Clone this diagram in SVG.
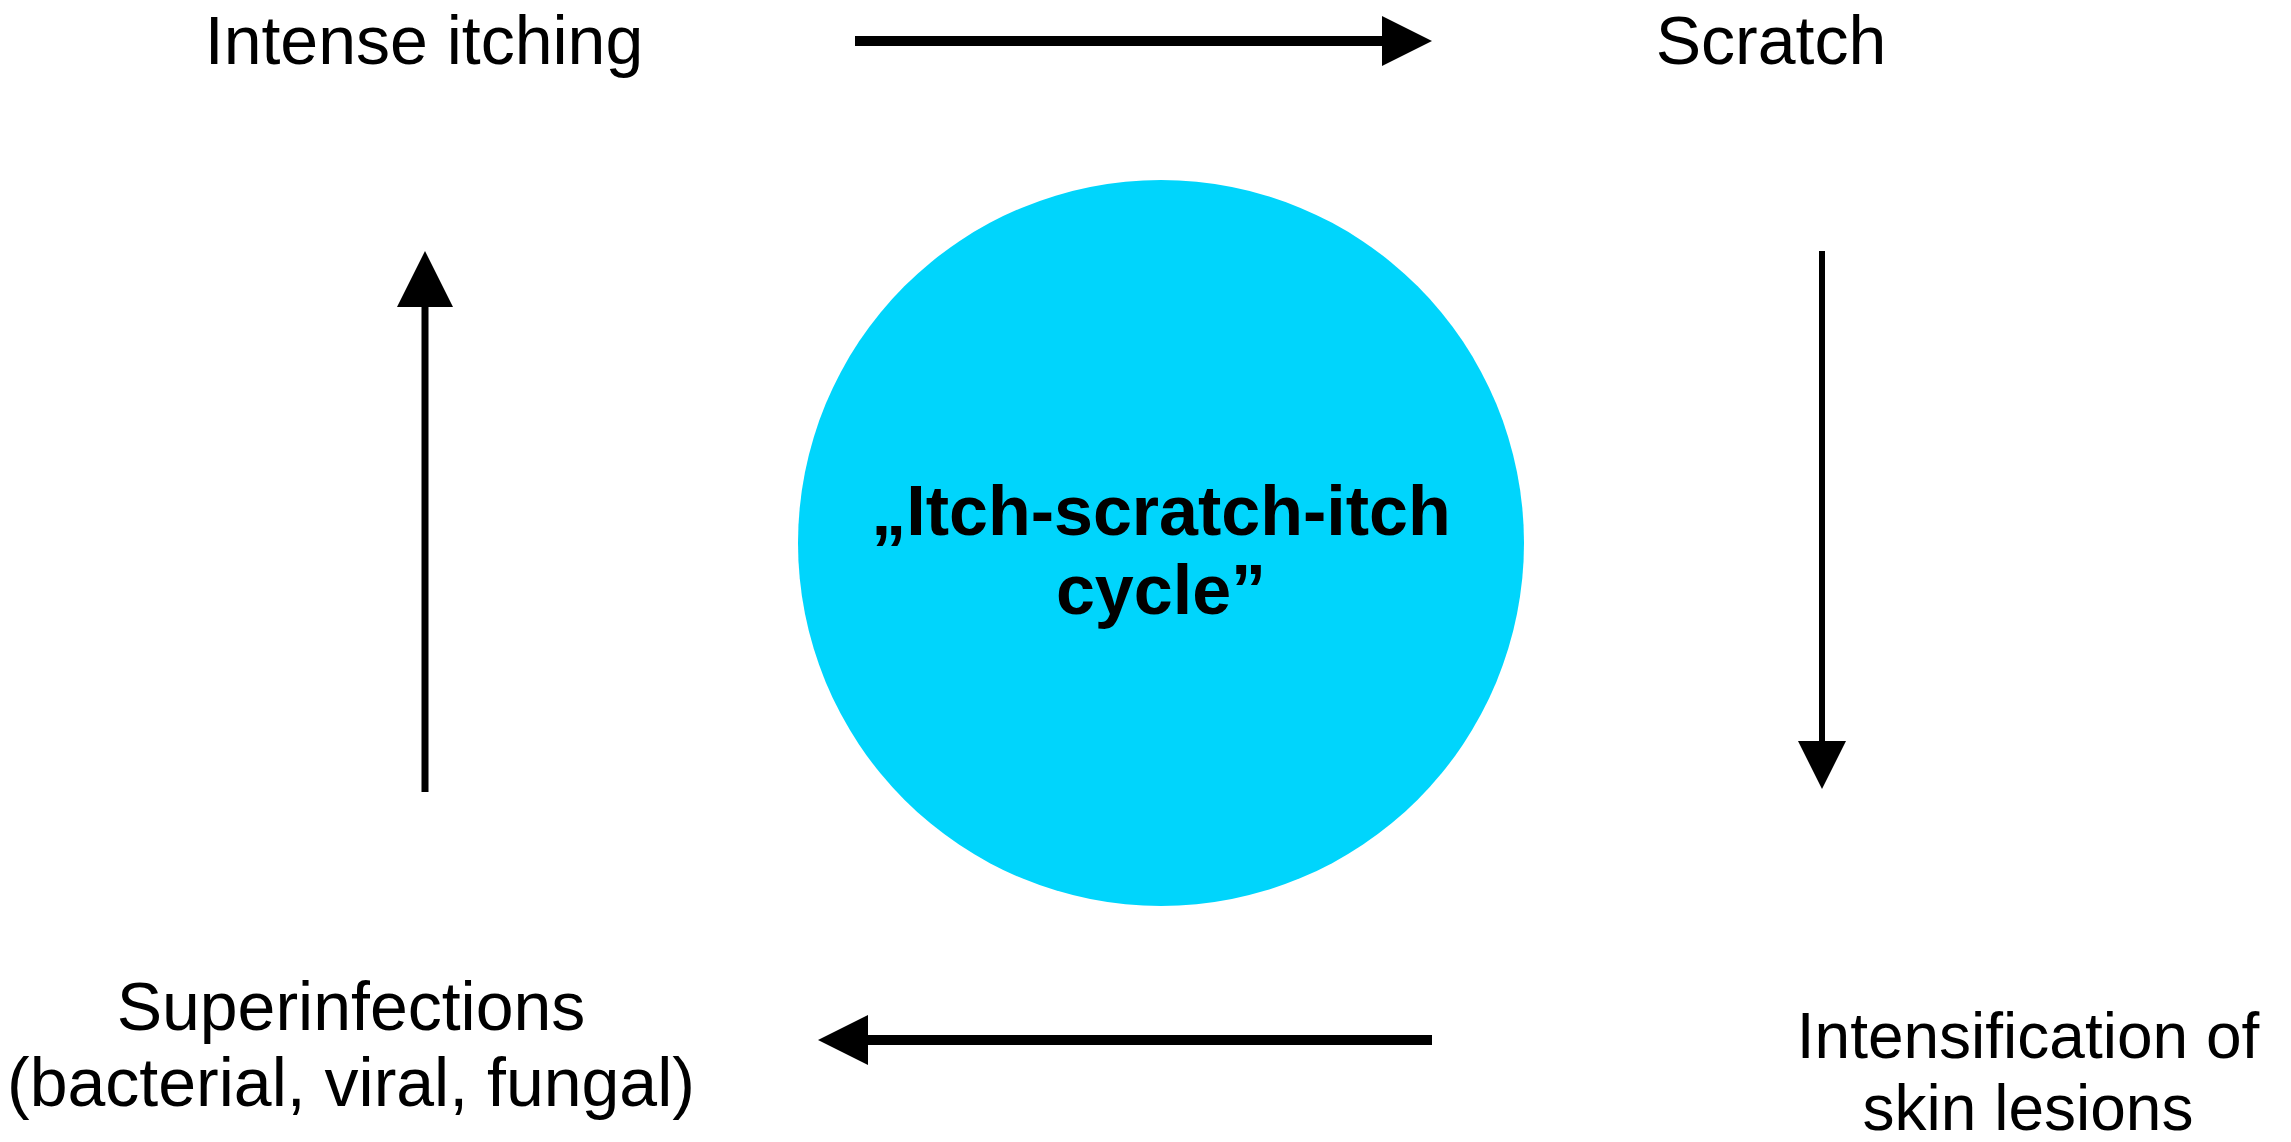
<svg xmlns="http://www.w3.org/2000/svg" width="2291" height="1142" viewBox="0 0 2291 1142">
<style>
text{font-family:"Liberation Sans",Arial,sans-serif;font-size:68px;fill:#000;text-anchor:middle}
.b{font-weight:bold;font-size:70px}
.s{font-size:64px}
line{stroke:#000}
</style>
<defs>
<marker id="ah" viewBox="0 0 10 10" refX="0" refY="5" markerWidth="5" markerHeight="5" markerUnits="strokeWidth" orient="auto"><path d="M0,0L10,5L0,10z" fill="#000"/></marker>
<marker id="ah2" viewBox="0 0 10 10" refX="0" refY="5" markerWidth="8" markerHeight="8" markerUnits="strokeWidth" orient="auto"><path d="M0,0L10,5L0,10z" fill="#000"/></marker>
</defs>
<rect width="2291" height="1142" fill="#fff"/>
<g id="center"><circle cx="1161" cy="543" r="363" fill="#00d5fc"/><text class="b" x="1161" y="535">„Itch-scratch-itch</text><text class="b" x="1161" y="614">cycle”</text></g>
<g id="n1"><text x="424" y="64">Intense itching</text></g>
<g id="n2"><text x="1771" y="64">Scratch</text></g>
<g id="n3"><text class="s" x="2028" y="1058">Intensification of</text><text class="s" x="2028" y="1130">skin lesions</text></g>
<g id="n4"><text x="351" y="1030">Superinfections</text><text x="351" y="1106">(bacterial, viral, fungal)</text></g>
<g id="connectors">
<line x1="855" y1="41" x2="1382" y2="41" stroke-width="10" marker-end="url(#ah)"/>
<line x1="1822" y1="251" x2="1822" y2="741" stroke-width="6" marker-end="url(#ah2)"/>
<line x1="1432" y1="1040" x2="868" y2="1040" stroke-width="10" marker-end="url(#ah)"/>
<line x1="425" y1="792" x2="425" y2="307" stroke-width="7" marker-end="url(#ah2)"/>
</g>
</svg>
